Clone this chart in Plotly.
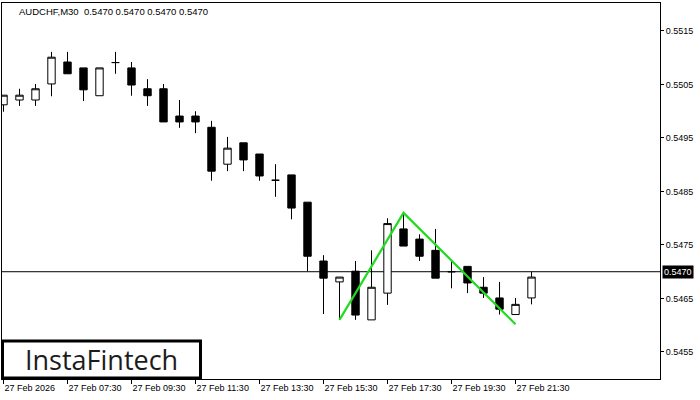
import plotly.graph_objects as go

# ---- data (AUDCHF, M30) ----
bar_index = list(range(34))
opens = [0.55012, 0.55021, 0.55021, 0.55051, 0.55092, 0.55081, 0.55029, 0.55091,
         0.55081, 0.55042, 0.55042, 0.54991, 0.54991, 0.54970, 0.54901, 0.54941,
         0.54920, 0.54871, 0.54881, 0.54830, 0.54720, 0.54681, 0.54701, 0.54610,
         0.54660, 0.54780, 0.54761, 0.54740, 0.54700, 0.54710, 0.54671, 0.54651,
         0.54620, 0.54651]
highs = [0.55030, 0.55042, 0.55051, 0.55111, 0.55111, 0.55081, 0.55081, 0.55111,
         0.55092, 0.55060, 0.55051, 0.55021, 0.55000, 0.54982, 0.54952, 0.54941,
         0.54920, 0.54901, 0.54881, 0.54830, 0.54731, 0.54690, 0.54720, 0.54740,
         0.54800, 0.54810, 0.54770, 0.54780, 0.54720, 0.54710, 0.54690, 0.54681,
         0.54651, 0.54700]
lows = [0.54999, 0.55010, 0.55010, 0.55028, 0.55070, 0.55019, 0.55029, 0.55070,
        0.55029, 0.55010, 0.54980, 0.54969, 0.54959, 0.54870, 0.54888, 0.54888,
        0.54870, 0.54840, 0.54798, 0.54701, 0.54621, 0.54610, 0.54610, 0.54610,
        0.54638, 0.54748, 0.54720, 0.54688, 0.54669, 0.54660, 0.54651, 0.54620,
        0.54620, 0.54639]
closes = [0.55030, 0.55030, 0.55042, 0.55101, 0.55070, 0.55040, 0.55081, 0.55091,
          0.55049, 0.55029, 0.54980, 0.54980, 0.54980, 0.54888, 0.54931, 0.54909,
          0.54879, 0.54871, 0.54819, 0.54729, 0.54688, 0.54690, 0.54619, 0.54671,
          0.54790, 0.54748, 0.54729, 0.54688, 0.54700, 0.54679, 0.54660, 0.54630,
          0.54639, 0.54690]

tick_positions = [0, 4, 8, 12, 16, 20, 24, 28, 32]
tick_labels = ["27 Feb 2026", "27 Feb 07:30", "27 Feb 09:30", "27 Feb 11:30",
               "27 Feb 13:30", "27 Feb 15:30", "27 Feb 17:30", "27 Feb 19:30",
               "27 Feb 21:30"]
price_ticks = [0.5455, 0.5465, 0.5475, 0.5485, 0.5495, 0.5505, 0.5515]
price_tick_labels = ["0.5455", "0.5465", "0.5475", "0.5485", "0.5495", "0.5505", "0.5515"]

pattern_x = [21, 25, 32]
pattern_y = [0.54610, 0.54810, 0.54602]

current_price = 0.5470
title_text = "AUDCHF,M30  0.5470 0.5470 0.5470 0.5470"
logo_text = "InstaFintech"

# ---- figure ----
W, H = 700, 400
ml, mr, mt, mb = 2, 40, 3, 21
pw, ph = W - ml - mr, H - mt - mb

def px_x(px):
    return (px - ml) / pw

def px_y(py):
    return (H - mb - py) / ph

fig = go.Figure()
fig.add_trace(go.Candlestick(
    x=bar_index, open=opens, high=highs, low=lows, close=closes,
    increasing=dict(fillcolor="white", line=dict(color="black", width=1)),
    decreasing=dict(fillcolor="black", line=dict(color="black", width=1)),
    whiskerwidth=0, hoverinfo="skip", showlegend=False,
))
fig.add_trace(go.Scatter(
    x=pattern_x, y=pattern_y, mode="lines",
    line=dict(color="#1fdc1f", width=2.2), hoverinfo="skip", showlegend=False,
))

font_small = dict(family="Liberation Sans, Arial, sans-serif", size=9, color="black")

fig.update_layout(
    width=W, height=H,
    margin=dict(l=ml, r=mr, t=mt, b=mb, pad=0),
    paper_bgcolor="white", plot_bgcolor="white",
    boxgap=0.34,
    showlegend=False,
    font=font_small,
    xaxis=dict(
        range=[-0.094, 41.03], rangeslider=dict(visible=False),
        tickmode="array", tickvals=tick_positions, ticktext=tick_labels,
        ticks="outside", ticklen=4, tickcolor="black", tickwidth=1,
        ticklabelposition="outside right",
        showgrid=False, zeroline=False,
        showline=True, linecolor="black", linewidth=1, mirror=True,
        tickfont=font_small,
    ),
    yaxis=dict(
        range=[0.544995, 0.552023], side="right",
        tickmode="array", tickvals=price_ticks, ticktext=price_tick_labels,
        ticks="outside", ticklen=3, tickcolor="black", tickwidth=1,
        showgrid=False, zeroline=False,
        showline=True, linecolor="black", linewidth=1, mirror=True,
        tickfont=font_small,
    ),
)

# current price line
fig.add_shape(type="line", xref="paper", x0=0, x1=1, yref="y",
              y0=current_price, y1=current_price,
              line=dict(color="black", width=1), layer="below")

# current price label
fig.add_annotation(
    x=1, xref="paper", y=current_price, yref="y",
    xanchor="left", yanchor="middle", xshift=2,
    text=f"{current_price:.4f}", showarrow=False,
    bgcolor="black", borderpad=1,
    font=dict(family="Liberation Sans, Arial, sans-serif", size=9, color="white"),
)

# title
fig.add_annotation(
    x=px_x(17), xref="paper", y=px_y(11), yref="paper",
    xanchor="left", yanchor="middle", text=title_text, showarrow=False,
    font=dict(family="Liberation Sans, Arial, sans-serif", size=9.5, color="black"),
)

# logo box
fig.add_shape(type="rect", xref="paper", yref="paper",
              x0=px_x(2.5), x1=px_x(200.5), y0=px_y(378), y1=px_y(341),
              line=dict(color="black", width=3), fillcolor="white", layer="above")
fig.add_annotation(
    x=px_x(101.5), xref="paper", y=px_y(359), yref="paper",
    xanchor="center", yanchor="middle", text=logo_text, showarrow=False,
    font=dict(family="Open Sans, sans-serif", size=27, color="#1c1c1c"),
)

fig.write_html(
    "out.html",
    config={"displayModeBar": False, "staticPlot": True},
    post_script="document.body.style.margin='0';document.body.style.padding='0';",
)
